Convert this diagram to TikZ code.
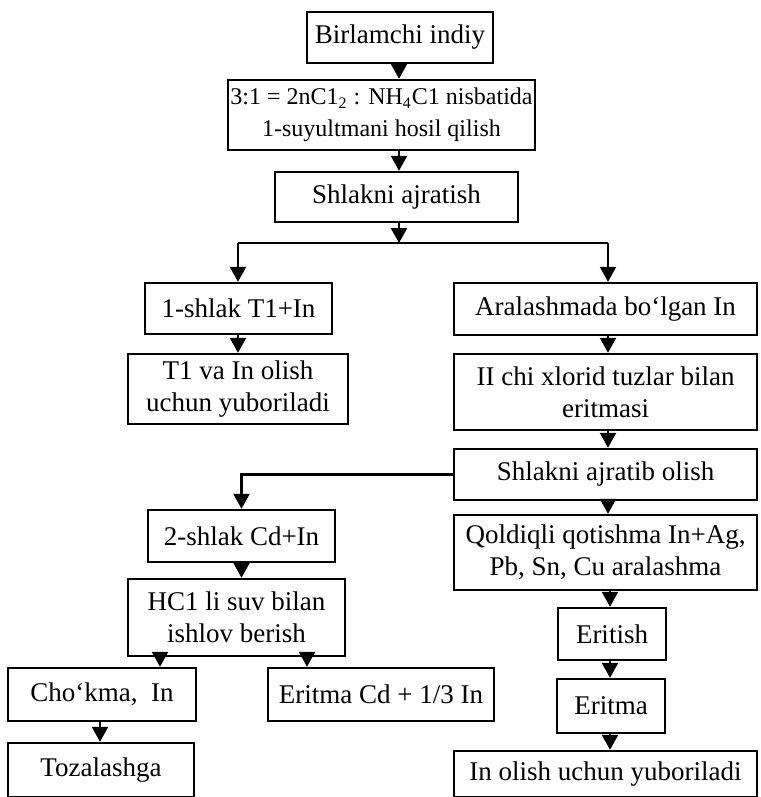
\documentclass[tikz,border=0pt]{standalone}
\usepackage{fontspec}
\setmainfont{Liberation Serif}
\usetikzlibrary{arrows.meta}

\tikzset{
  blok/.style={draw,line width=1.2pt,align=center,inner sep=1pt,
    font=\fontsize{13.5}{16}\selectfont},
  strelka/.style={line width=1.2pt,-{Triangle[length=7.5pt,width=8pt]}}
}

\begin{document}
\begin{tikzpicture}[x=0.5pt,y=-0.5pt]
   \useasboundingbox (0,0) rectangle (760,797);
   % upper trunk
   \node[blok,minimum width=93pt,minimum height=25.5pt] (b1) at (400,37.5) {Birlamchi indiy};
   \node[blok,minimum width=153.5pt,minimum height=35pt,font=\fontsize{12}{16}\selectfont] (b2) at (381.5,115)
     {3:1 = 2nC1\textsubscript{2} : NH\textsubscript{4}C1 nisbatida\\1-suyultmani hosil qilish};
   \node[blok,minimum width=121.5pt,minimum height=25pt] (b3) at (396.5,197) {Shlakni ajratish};
   % left branch
   \node[blok,minimum width=93.5pt,minimum height=25.5pt] (b4) at (238.5,308.5) {1-shlak T1+In};
   \node[blok,minimum width=110pt,minimum height=35pt] (b6) at (238,389) {T1 va In olish\\uchun yuboriladi};
   \node[blok,minimum width=93.5pt,minimum height=26pt] (b9) at (241.5,536) {2-shlak Cd+In};
   \node[blok,minimum width=108.5pt,minimum height=38.5pt] (b11) at (236.5,617.5) {HC1 li suv bilan\\ishlov berish};
   \node[blok,minimum width=94pt,minimum height=26.5pt] (b12) at (102,694.5) {Cho‘kma,~~In};
   \node[blok,minimum width=113pt,minimum height=26.5pt] (b13) at (381,694.5) {Eritma Cd + 1/3 In};
   \node[blok,minimum width=93pt,minimum height=27pt] (b17) at (101,770) {Tozalashga};
   % right branch
   \node[blok,minimum width=151.5pt,minimum height=26pt] (b5) at (605.5,309) {Aralashmada bo‘lgan In};
   \node[blok,minimum width=151.5pt,minimum height=38pt] (b7) at (605.5,392) {II chi xlorid tuzlar bilan\\eritmasi};
   \node[blok,minimum width=151.5pt,minimum height=25.5pt] (b8) at (605.5,474.5) {Shlakni ajratib olish};
   \node[blok,minimum width=151.5pt,minimum height=37.5pt] (b10) at (605.5,552.5) {Qoldiqli qotishma In+Ag,\\Pb, Sn, Cu aralashma};
   \node[blok,minimum width=54pt,minimum height=26pt] (b14) at (612,634) {Eritish};
   \node[blok,minimum width=54pt,minimum height=27pt] (b15) at (611,706) {Eritma};
   \node[blok,minimum width=151.5pt,minimum height=23pt] (b16) at (605.5,774) {In olish uchun yuboriladi};
   % connectors
   \coordinate (ax) at (399,0);
   \coordinate (sp) at (399,243);
   \coordinate (sl) at (238,243);
   \coordinate (sr) at (608,243);
   \coordinate (bx) at (608,0);
   \coordinate (ex) at (610,0);
   \coordinate (k1) at (160,0);
   \coordinate (k2) at (307,0);
   \coordinate (k3) at (100,0);
   \draw[strelka] (b1.south -| ax) -- (b2.north -| ax);
   \draw[strelka] (b2.south -| ax) -- (b3.north -| ax);
   \draw[strelka] (b3.south -| ax) -- (sp);
   \draw[line width=1.2pt] (sl) -- (sr);
   \draw[strelka] (sl) -- (sl |- b4.north);
   \draw[strelka] (sr) -- (sr |- b5.north);
   \draw[strelka] (b4.south -| sl) -- (b6.north -| sl);
   \draw[strelka] (b5.south -| bx) -- (b7.north -| bx);
   \draw[strelka] (b7.south -| bx) -- (b8.north -| bx);
   \draw[strelka] (b8.south -| bx) -- (b10.north -| bx);
   \draw[strelka] (b8.west) -| (b9.north);
   \draw[strelka] (b9.south) -- (b9.south |- b11.north);
   \draw[strelka] (b11.south -| k1) -- (b12.north -| k1);
   \draw[strelka] (b11.south -| k2) -- (b13.north -| k2);
   \draw[strelka] (b12.south -| k3) -- (b17.north -| k3);
   \draw[strelka] (b10.south -| ex) -- (b14.north -| ex);
   \draw[strelka] (b14.south -| ex) -- (b15.north -| ex);
   \draw[strelka] (b15.south -| ex) -- (b16.north -| ex);
\end{tikzpicture}
\end{document}
